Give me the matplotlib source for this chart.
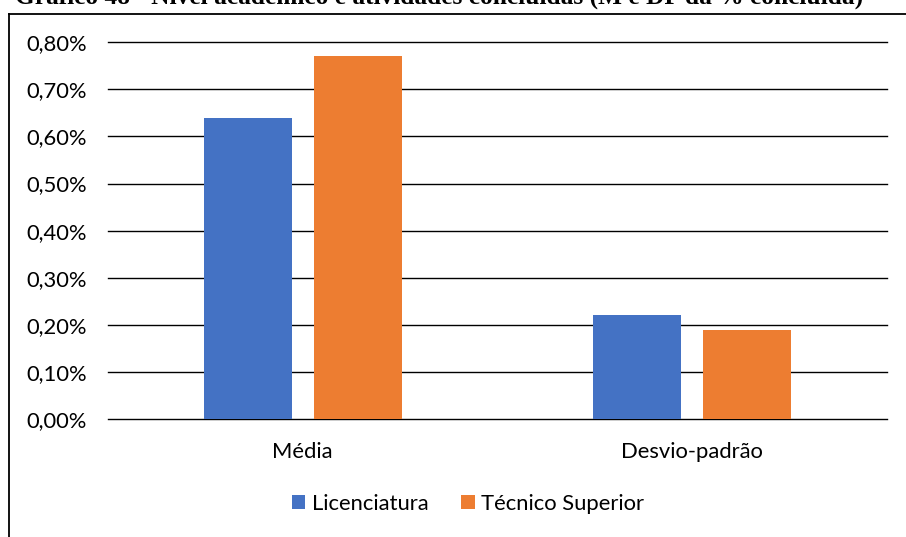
import matplotlib
matplotlib.use("Agg")
import matplotlib.pyplot as plt
from matplotlib.patches import Patch
from matplotlib.lines import Line2D
import numpy as np

title = "Gráfico 48 - Nível académico e atividades concluídas (M e DP da % concluída)"
categories = ["Média", "Desvio-padrão"]
series_names = ["Licenciatura", "Técnico Superior"]
licenciatura = [0.64, 0.22]
tecnico = [0.77, 0.19]
yticks = [0.0, 0.1, 0.2, 0.3, 0.4, 0.5, 0.6, 0.7, 0.8]
ytick_labels = ["0,00%", "0,10%", "0,20%", "0,30%", "0,40%", "0,50%", "0,60%", "0,70%", "0,80%"]

colors = ["#4472C4", "#ED7D31"]
W, H = 906, 537
fig = plt.figure(figsize=(W / 100, H / 100), dpi=100)
font = "Lato"
fs = 15.8

ax = fig.add_axes([108 / W, 1 - 419 / H, (887 - 108) / W, (419 - 42.3) / H])
x = np.arange(len(categories))
bw = 0.226
off = 0.141
ax.bar(x - off, licenciatura, bw, color=colors[0], zorder=3)
ax.bar(x + off, tecnico, bw, color=colors[1], zorder=3)

ax.set_xlim(-0.5, len(categories) - 0.5)
ax.set_ylim(0, 0.8)
ax.set_yticks(yticks)
ax.set_yticklabels(ytick_labels, fontfamily=font, fontsize=fs)
ax.set_xticks(x)
ax.set_xticklabels(categories, fontfamily=font, fontsize=fs)
ax.tick_params(axis="y", length=0, pad=15)
ax.tick_params(axis="x", length=0, pad=16.5)
for s in ax.spines.values():
    s.set_visible(False)
ax.yaxis.grid(True, color="black", linewidth=1.0, zorder=0)
ax.set_axisbelow(True)
for gl in ax.get_ygridlines():
    gl.set_clip_on(False)

handles = [Patch(facecolor=c, edgecolor="none") for c in colors]
leg = fig.legend(handles, series_names, loc="center", bbox_to_anchor=(468 / W, 1 - 504 / H),
                 ncol=2, frameon=False, prop={"family": font, "size": fs},
                 handlelength=0.62, handleheight=0.62, handletextpad=0.3, columnspacing=1.5)

# frame border (left and top)
fig.add_artist(Line2D([9 / W, 9 / W], [0, 1 - 14 / H], transform=fig.transFigure, color="black", lw=1.3))
fig.add_artist(Line2D([9 / W, 1], [1 - 14 / H, 1 - 14 / H], transform=fig.transFigure, color="black", lw=1.3))

# title, cropped at the top edge as in the reference
fig.text(15 / W, 1 - 4 / H, title, fontfamily="Liberation Serif", fontweight="bold",
         fontsize=18.3, ha="left", va="baseline")

fig.savefig("out.png", dpi=100)
